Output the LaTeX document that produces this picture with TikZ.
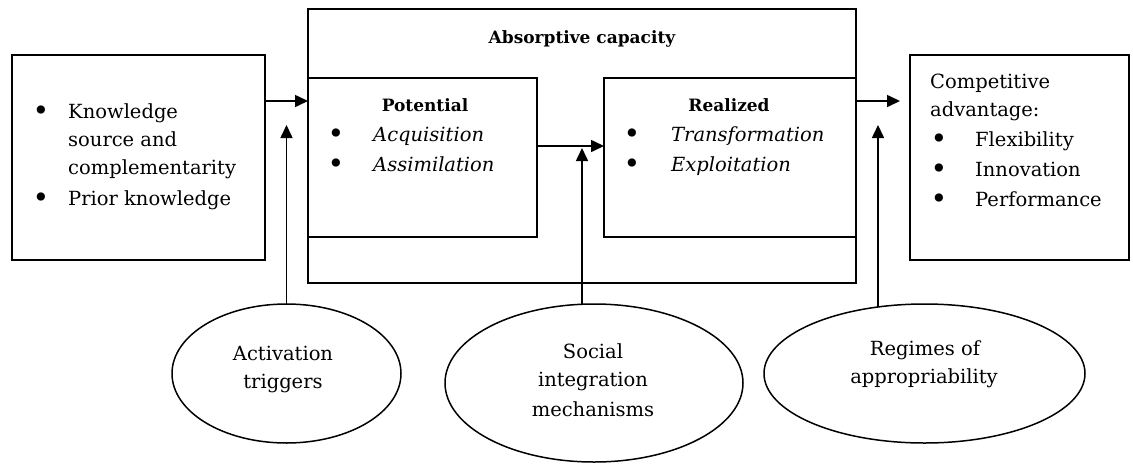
\documentclass[tikz,border=0pt]{standalone}
\usepackage{fontspec}
\usepackage{graphicx}
\setmainfont{DejaVu Serif}
\usetikzlibrary{arrows.meta,shapes.geometric}
\newcommand{\bigbul}{\raisebox{-2.6pt}{\scalebox{1.45}{\upshape\textbullet}}}
\newcommand{\itm}[2]{\makebox[#1][l]{\bigbul}#2}
\begin{document}
\begin{tikzpicture}[x=1pt,y=-1pt,
  box/.style={draw, line width=1.7pt, inner sep=0pt, outer sep=0pt, anchor=north west},
  ell/.style={draw, ellipse, line width=1.5pt, inner sep=0pt, outer sep=0pt},
  arr/.style={line width=1.6pt, -{Triangle[length=13pt,width=12pt]}},
  txt/.style={anchor=base west, inner sep=0pt, font=\fontsize{19.5}{28}\selectfont},
  itx/.style={anchor=base west, inner sep=0pt, font=\fontsize{19.5}{28}\selectfont\itshape},
  ctr/.style={anchor=base, inner sep=0pt, font=\fontsize{19.5}{28}\selectfont},
  hd/.style={anchor=base, inner sep=0pt, font=\fontsize{17}{24}\selectfont\bfseries}]
\useasboundingbox (0,0) rectangle (1133,464);

% boxes
\node[box, minimum width=253pt, minimum height=205pt] (lb) at (12,55) {};
\node[box, minimum width=548pt, minimum height=274pt] (abs) at (308,9) {};
\node[box, minimum width=229pt, minimum height=159pt] (pot) at (308,78) {};
\node[box, minimum width=252pt, minimum height=159pt] (rea) at (604,78) {};
\node[box, minimum width=219pt, minimum height=205pt] (rb) at (910,55) {};

% ellipses
\node[ell, minimum width=229pt, minimum height=139pt] (act) at (286.5,373.5) {};
\node[ell, minimum width=298pt, minimum height=158pt] (soc) at (594,383) {};
\node[ell, minimum width=321pt, minimum height=139pt] (reg) at (924.5,373.5) {};

% left box text
\node[txt] (l1) at (32.3,118) {\itm{35.7pt}{Knowledge}};
\node[txt] (l2) at (68,146) {source and};
\node[txt] (l3) at (68,174) {complementarity};
\node[txt] (l4) at (32.3,205) {\itm{35.7pt}{Prior knowledge}};

% absorptive capacity
\node[hd] (t0) at (582,43) {Absorptive capacity};
\node[hd] (p0) at (425,111) {Potential};
\node[itx] (p1) at (327.3,141) {\itm{45.7pt}{Acquisition}};
\node[itx] (p2) at (327.3,171) {\itm{45.7pt}{Assimilation}};
\node[hd] (r0) at (729,111) {Realized};
\node[itx] (r1) at (623.3,141) {\itm{47.7pt}{Transformation}};
\node[itx] (r2) at (623.3,171) {\itm{47.7pt}{Exploitation}};

% right box text
\node[txt] (c1) at (930,88) {Competitive};
\node[txt] (c2) at (930,116) {advantage:};
\node[txt] (c3) at (930.3,146) {\itm{44.7pt}{Flexibility}};
\node[txt] (c4) at (930.3,176) {\itm{44.7pt}{Innovation}};
\node[txt] (c5) at (930.3,206) {\itm{44.7pt}{Performance}};

% ellipse text
\node[ctr] (a1) at (283,360) {Activation};
\node[ctr] (a2) at (283,388) {triggers};
\node[ctr] (s1) at (593,358) {Social};
\node[ctr] (s2) at (593,386) {integration};
\node[ctr] (s3) at (593,416) {mechanisms};
\node[ctr] (g1) at (925,355) {Regimes of};
\node[ctr] (g2) at (924,383) {appropriability};

% arrows
\coordinate (y1) at (0,101);
\coordinate (y2) at (0,146);
\coordinate (e3) at (900,101);
\coordinate (t1) at (286.5,125);
\coordinate (t2) at (582,148);
\coordinate (t4) at (878,125);
\draw[arr] (lb.east |- y1) -- (abs.west |- y1);
\draw[arr] (pot.east |- y2) -- (rea.west |- y2);
\draw[arr] (abs.east |- y1) -- (e3);
\draw[arr] (act.north) -- (t1);
\draw[arr] (t2 |- soc.north) -- (t2);
\draw[arr] (t4 |- reg.125) -- (t4);
\end{tikzpicture}
\end{document}
